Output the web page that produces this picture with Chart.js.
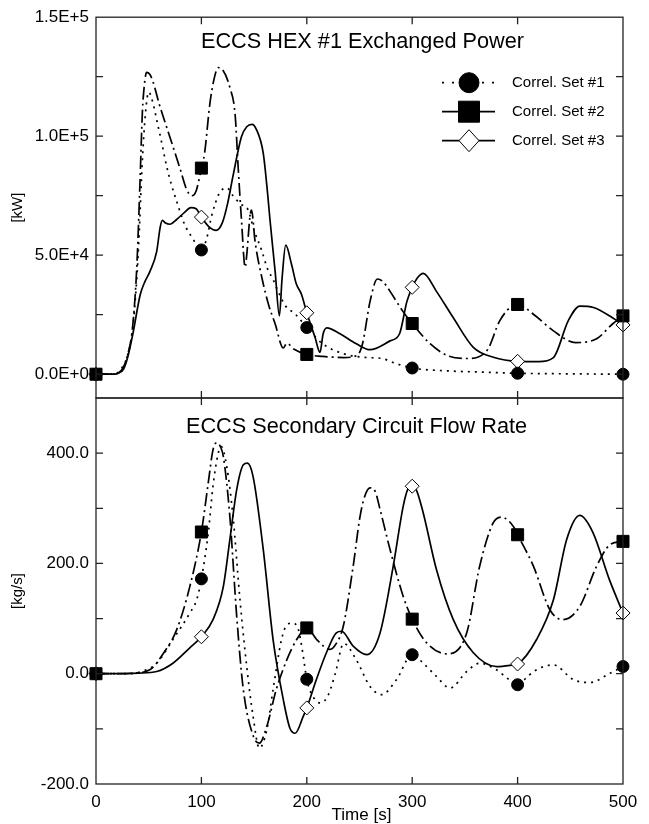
<!DOCTYPE html>
<html>
<head>
<meta charset="utf-8">
<script src="https://cdn.jsdelivr.net/npm/chart.js@4/dist/chart.umd.min.js"></script>
<style>
  html, body { margin: 0; padding: 0; background: #fff; }
  #wrap { position: relative; width: 649px; height: 824px; }
  canvas { position: absolute; left: 0; top: 0; }
</style>
</head>
<body>
<div id="wrap">
  <canvas id="powerChart" width="649" height="824"></canvas>
  <canvas id="flowChart" width="649" height="824"></canvas>
</div>
<script>
// Exchanged power [kW] vs time [s]
const powerT1 = [0, 15, 20, 25, 30, 35, 40, 44, 47, 50, 54, 58, 62, 67, 72, 77, 84, 92, 96, 100, 105, 110, 117, 124, 130, 137, 144, 150, 157, 163, 168, 172, 180, 189, 200, 215, 234, 257, 270, 285, 300, 333, 365, 400, 450, 500];
const power1  = [0, 0, 500, 3000, 8000, 20000, 50000, 90000, 110000, 118500, 114000, 106000, 98000, 87400, 79000, 72000, 63000, 56800, 54000, 52200, 57000, 67000, 76000, 78300, 75000, 71500, 69300, 60500, 52200, 44000, 39800, 35600, 28600, 25300, 19600, 12800, 8700, 7000, 6700, 4400, 2600, 1400, 900, 400, 150, 0];

const powerT2 = [0, 15, 20, 26, 30, 34, 37, 39, 41.7, 44, 46, 48, 51, 54, 60, 70, 80, 86, 91, 95, 100, 103, 108, 112, 116, 120, 127, 132, 135, 138, 141.5, 143, 146, 147.5, 151, 157.5, 163.6, 170, 177.7, 181, 188, 200, 215, 235, 248, 253, 260, 267, 272, 279, 291, 300, 317, 333, 352, 371, 383, 396, 400, 415, 434, 455, 475, 490, 500];
const power2  = [0, 0, 300, 3000, 8000, 17000, 32000, 48000, 80000, 110000, 122000, 126800, 126000, 123000, 113500, 99800, 86000, 77600, 75000, 77000, 86600, 92800, 113500, 124000, 128800, 128000, 120500, 109000, 86000, 65000, 45000, 50000, 66000, 69000, 55500, 40300, 29400, 21100, 11000, 13000, 10500, 8300, 7500, 7000, 8000, 13000, 30600, 40000, 39000, 34800, 26500, 21300, 12800, 7900, 6600, 10000, 22400, 29000, 29300, 25200, 18200, 13300, 14900, 21100, 24500];

const powerT3 = [0, 18, 22, 26, 30, 35, 42, 46.5, 51, 57.5, 61, 63, 66, 70, 76.5, 84, 90, 95, 100, 107, 114, 120, 125, 130, 138, 143, 148, 152, 158.7, 163, 165, 170, 174, 176.5, 180, 185.6, 190, 195, 200, 207.8, 212.5, 215.5, 219, 231.5, 247, 260, 279, 288, 295, 300, 305, 310.5, 323, 339, 358, 377, 400, 420, 434, 448, 459, 472, 490, 500];
const power3  = [0, 0, 600, 2000, 7000, 17000, 33500, 39000, 43000, 51400, 62000, 64600, 63500, 63000, 65000, 68000, 70000, 69500, 66000, 62000, 60400, 63800, 72000, 83300, 99800, 104000, 105000, 103000, 92800, 75000, 65200, 43000, 24500, 40000, 54200, 46000, 38000, 33500, 25800, 15500, 9200, 17000, 19500, 17000, 12800, 10300, 14000, 17000, 30600, 36500, 40500, 42400, 34800, 23700, 11300, 7100, 5400, 5300, 7000, 22400, 28600, 28000, 23700, 20700];

// Secondary circuit flow rate [kg/s] vs time [s]
const flowT1 = [0, 30, 45, 57.6, 73, 89, 95.5, 100, 106.5, 111, 116, 119, 124, 130, 136.6, 143, 149, 155, 162, 168, 176, 181, 187, 192, 196, 200, 206, 213, 220, 227, 235, 247, 260, 271, 285, 300, 310.5, 323, 336, 351.7, 364, 380, 390, 400, 408, 415, 434, 453, 468.7, 487.7, 500];
const flow1  = [0, 0, 5, 19, 62, 110, 134, 172, 255, 340, 400, 412, 376, 285, 134, 13, -77, -135, -102, -29, 62, 88, 92, 80, 40, -10, -42, -53, -40, 0, 55, 25, -23, -38, -11, 34.5, 19, -5, -26, 4, 19, 7, -8, -20, -8, 4, 16, -11, -16, 1, 13];

const flowT2 = [0, 20, 35, 51, 64, 76.6, 89, 100, 106.5, 111, 114.5, 118, 120.8, 127, 133.5, 139.8, 149.4, 155, 162, 171, 181, 190.4, 200, 209.4, 222, 228, 234.6, 244, 250.5, 255, 260, 265, 269.5, 279, 291.5, 300, 313.7, 332.7, 351.7, 364, 376.7, 384.7, 396, 400, 415, 430.6, 443, 459, 475, 487.7, 500];
const flow2  = [0, 0, 1, 7, 37, 80, 158, 257, 346, 406, 419, 412, 394, 285, 104, -29, -114, -126, -96, -29, 25, 62, 83, 62, 44, 55, 86, 195, 285, 322, 337, 330, 298, 225, 140, 99, 56, 36, 74, 195, 273, 284, 267, 252, 195, 116, 98, 122, 195, 234, 240];

const flowT3 = [0, 19, 40, 57.6, 73, 89, 100, 111, 120.8, 127, 133.5, 139.8, 143.6, 149, 158.7, 168, 177.7, 184, 189, 196.7, 200, 209, 218.6, 228, 233, 244, 256.8, 269.5, 282, 291.5, 296, 300, 304, 310, 323, 339, 358, 380, 396, 400, 418, 434, 446.5, 459, 471.5, 487, 500];
const flow3  = [0, 0, 1, 4, 19, 47, 67, 98, 158, 243, 334, 379, 382, 358, 225, 62, -47, -99, -108, -77, -62, -11, 38, 74, 77, 50, 34.5, 74, 195, 304, 335, 340, 333, 295, 189, 98, 38, 13, 16, 17.6, 62, 134, 243, 287, 256, 171, 110];

const seriesLabels = ['Correl. Set #1', 'Correl. Set #2', 'Correl. Set #3'];
const timeTicks = [0, 100, 200, 300, 400, 500];
const powerTicks = [0, 25000, 50000, 75000, 100000, 125000, 150000];
const flowTicks = [-200, -100, 0, 100, 200, 300, 400, 500];

const FONT = "Arial, 'Liberation Sans', sans-serif";

// line + marker look of each correlation set
const looks = [
  { dash: [2, 5], marker: 'circle', radius: 6, fill: '#000', order: 1 },
  { dash: [13, 4, 2, 4], marker: 'rect', radius: 8.5, fill: '#000', order: 0 },
  { dash: [], marker: 'rectRot', radius: 7, fill: '#fff', order: 2 }
];

function toPoints(ts, vs) {
  return ts.map((t, i) => ({ x: t, y: vs[i] }));
}

function makeDatasets(pairs) {
  return pairs.map((p, i) => {
    const lk = looks[i];
    return {
      label: seriesLabels[i],
      data: toPoints(p[0], p[1]),
      borderColor: '#000',
      borderWidth: 1.7,
      borderDash: lk.dash,
      tension: 0,
      cubicInterpolationMode: 'monotone',
      pointStyle: lk.marker,
      pointRadius: ctx => (ctx.raw && ctx.raw.x % 100 === 0 ? lk.radius : 0),
      pointBackgroundColor: lk.fill,
      pointBorderColor: '#000',
      pointBorderWidth: 1,
      order: lk.order,
      clip: false
    };
  });
}

// frame, inward ticks, panel title, unit label
const framePlugin = {
  id: 'frame',
  afterDraw(chart, args, opts) {
    const { ctx, chartArea: a, scales } = chart;
    const L = 7;
    ctx.save();
    ctx.strokeStyle = '#222';
    ctx.lineWidth = 1.3;
    ctx.strokeRect(a.left, a.top, a.right - a.left, a.bottom - a.top);
    ctx.beginPath();
    scales.y.ticks.forEach(t => {
      const v = t.value;
      if (v <= scales.y.min || v >= scales.y.max) return;
      const y = scales.y.getPixelForValue(v);
      ctx.moveTo(a.left, y); ctx.lineTo(a.left + L, y);
      ctx.moveTo(a.right, y); ctx.lineTo(a.right - L, y);
    });
    timeTicks.forEach(v => {
      if (v <= scales.x.min || v >= scales.x.max) return;
      const x = scales.x.getPixelForValue(v);
      ctx.moveTo(x, a.top); ctx.lineTo(x, a.top + L);
      ctx.moveTo(x, a.bottom); ctx.lineTo(x, a.bottom - L);
    });
    ctx.stroke();

    ctx.fillStyle = '#000';
    ctx.font = '21.7px ' + FONT;
    ctx.textAlign = 'center';
    ctx.textBaseline = 'alphabetic';
    ctx.fillText(opts.title, (a.left + a.right) / 2 + opts.titleDx, a.top + opts.titleDy);

    ctx.save();
    ctx.font = '15px ' + FONT;
    ctx.textBaseline = 'middle';
    ctx.translate(18, (a.top + a.bottom) / 2);
    ctx.rotate(-Math.PI / 2);
    ctx.fillText(opts.unit, 0, 0);
    ctx.restore();

    if (opts.xTitle) {
      ctx.font = '17px ' + FONT;
      ctx.textBaseline = 'middle';
      ctx.fillText(opts.xTitle, (a.left + a.right) / 2 + 2, 815);
    }
    ctx.restore();
  }
};

// legend: line sample with a big marker
const legendPlugin = {
  id: 'setLegend',
  afterDraw(chart) {
    const { ctx } = chart;
    const rows = [82.7, 111.7, 140.7];
    ctx.save();
    rows.forEach((y, i) => {
      const lk = looks[i];
      ctx.strokeStyle = '#000';
      ctx.lineWidth = 1.7;
      ctx.setLineDash(i === 0 ? [2, 8] : []);
      ctx.beginPath();
      ctx.moveTo(442, y); ctx.lineTo(495, y);
      ctx.stroke();
      ctx.setLineDash([]);
      const cx = 469;
      ctx.beginPath();
      if (lk.marker === 'circle') {
        ctx.arc(cx, y, 10, 0, Math.PI * 2);
      } else if (lk.marker === 'rect') {
        ctx.rect(cx - 10.5, y - 10.5, 21, 21);
      } else {
        ctx.moveTo(cx - 10, y); ctx.lineTo(cx, y - 11);
        ctx.lineTo(cx + 10, y); ctx.lineTo(cx, y + 11);
        ctx.closePath();
      }
      ctx.fillStyle = lk.fill;
      ctx.fill();
      ctx.lineWidth = 1;
      ctx.stroke();
      ctx.fillStyle = '#000';
      ctx.font = '15px ' + FONT;
      ctx.textAlign = 'left';
      ctx.textBaseline = 'middle';
      ctx.fillText(seriesLabels[i], 512, y);
    });
    ctx.restore();
  }
};

const tickFont = { family: FONT, size: 17 };

new Chart(document.getElementById('powerChart'), {
  type: 'line',
  data: { datasets: makeDatasets([[powerT1, power1], [powerT2, power2], [powerT3, power3]]) },
  options: {
    responsive: false,
    animation: false,
    events: [],
    layout: { padding: { left: 0, right: 26, top: 12, bottom: 426 } },
    plugins: {
      legend: { display: false },
      tooltip: { enabled: false },
      frame: { title: 'ECCS HEX #1 Exchanged Power', titleDx: 3, titleDy: 31, unit: '[kW]' }
    },
    scales: {
      x: { type: 'linear', min: 0, max: 500, display: false },
      y: {
        min: -10000, max: 150000,
        afterFit: s => { s.width = 96; },
        afterBuildTicks: s => { s.ticks = powerTicks.map(v => ({ value: v })); },
        grid: { display: false, drawTicks: false },
        border: { display: false },
        ticks: {
          autoSkip: false, padding: 7, color: '#000', font: tickFont,
          callback: v => (v % 50000 === 0 ? v.toExponential(1).replace('e', 'E') : '')
        }
      }
    }
  },
  plugins: [framePlugin, legendPlugin]
});

new Chart(document.getElementById('flowChart'), {
  type: 'line',
  data: { datasets: makeDatasets([[flowT1, flow1], [flowT2, flow2], [flowT3, flow3]]) },
  options: {
    responsive: false,
    animation: false,
    events: [],
    layout: { padding: { left: 0, right: 26, top: 398, bottom: 0 } },
    plugins: {
      legend: { display: false },
      tooltip: { enabled: false },
      frame: { title: 'ECCS Secondary Circuit Flow Rate', titleDx: -3, titleDy: 34.5, unit: '[kg/s]', xTitle: 'Time [s]' }
    },
    scales: {
      x: {
        type: 'linear', min: 0, max: 500,
        afterFit: s => { s.height = 40; },
        afterBuildTicks: s => { s.ticks = timeTicks.map(v => ({ value: v })); },
        grid: { display: false, drawTicks: false },
        border: { display: false },
        ticks: { autoSkip: false, maxRotation: 0, padding: 8, color: '#000', font: tickFont }
      },
      y: {
        min: -200, max: 500,
        afterFit: s => { s.width = 96; },
        afterBuildTicks: s => { s.ticks = flowTicks.map(v => ({ value: v })); },
        grid: { display: false, drawTicks: false },
        border: { display: false },
        ticks: {
          autoSkip: false, padding: 7, color: '#000', font: tickFont,
          callback: v => (v % 200 === 0 ? v.toFixed(1) : '')
        }
      }
    }
  },
  plugins: [framePlugin]
});
</script>
</body>
</html>
